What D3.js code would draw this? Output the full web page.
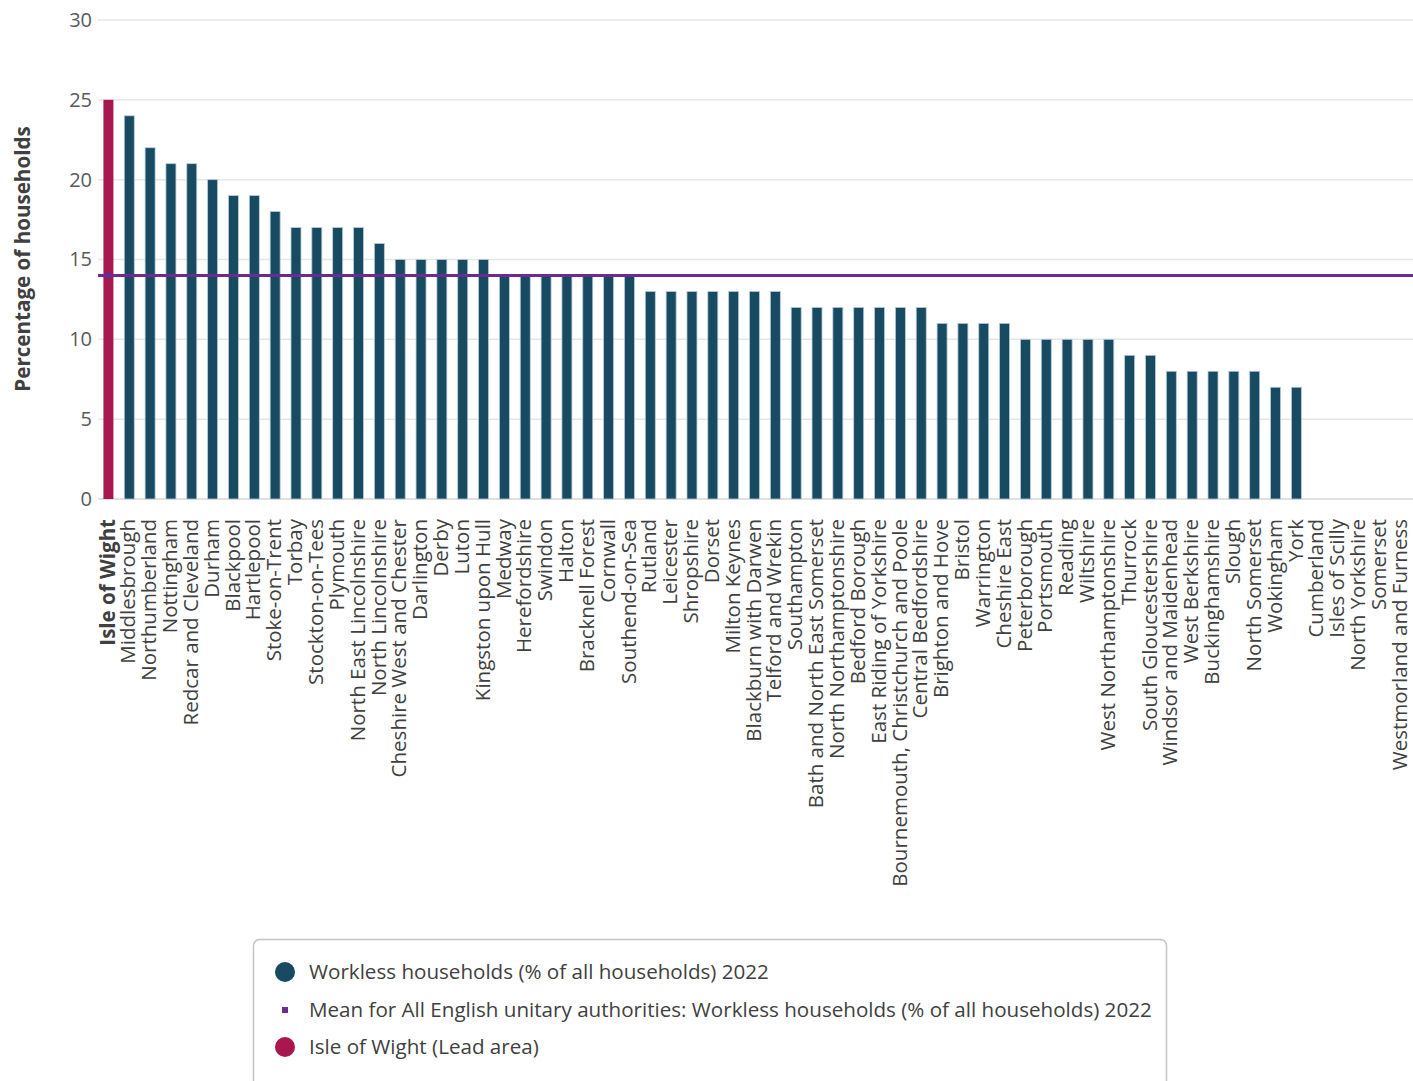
<!DOCTYPE html>
<html><head><meta charset="utf-8">
<script src="https://cdn.jsdelivr.net/npm/d3@7"></script>
<style>
body{margin:0;background:#fff;font-family:"Open Sans",sans-serif;}
svg{display:block;}
</style></head>
<body>
<svg id="chart" width="1413" height="1081"></svg>
<script>
const categories = ["Isle of Wight","Middlesbrough","Northumberland","Nottingham","Redcar and Cleveland","Durham","Blackpool","Hartlepool","Stoke-on-Trent","Torbay","Stockton-on-Tees","Plymouth","North East Lincolnshire","North Lincolnshire","Cheshire West and Chester","Darlington","Derby","Luton","Kingston upon Hull","Medway","Herefordshire","Swindon","Halton","Bracknell Forest","Cornwall","Southend-on-Sea","Rutland","Leicester","Shropshire","Dorset","Milton Keynes","Blackburn with Darwen","Telford and Wrekin","Southampton","Bath and North East Somerset","North Northamptonshire","Bedford Borough","East Riding of Yorkshire","Bournemouth, Christchurch and Poole","Central Bedfordshire","Brighton and Hove","Bristol","Warrington","Cheshire East","Peterborough","Portsmouth","Reading","Wiltshire","West Northamptonshire","Thurrock","South Gloucestershire","Windsor and Maidenhead","West Berkshire","Buckinghamshire","Slough","North Somerset","Wokingham","York","Cumberland","Isles of Scilly","North Yorkshire","Somerset","Westmorland and Furness"];
const values = [25,24,22,21,21,20,19,19,18,17,17,17,17,16,15,15,15,15,15,14,14,14,14,14,14,14,13,13,13,13,13,13,13,12,12,12,12,12,12,12,11,11,11,11,10,10,10,10,10,9,9,8,8,8,8,8,7,7,null,null,null,null,null];
const meanValue = 14;
const leadArea = "Isle of Wight";
const yTicks = [0,5,10,15,20,25,30];
const legendLabels = ["Workless households (% of all households) 2022","Mean for All English unitary authorities: Workless households (% of all households) 2022","Isle of Wight (Lead area)"];
const colors = {bar:"#184a62", lead:"#a8174f", mean:"#6b2c91"};

const svg = d3.select("#chart");
const x = d3.scaleBand().domain(categories).range([98,1411]).paddingInner(0.52).paddingOuter(0.26);
const y = d3.scaleLinear().domain([0,30]).range([499,20]);

svg.append("g").selectAll("line").data(yTicks).join("line")
  .attr("x1",98).attr("x2",1413).attr("y1",d=>y(d)).attr("y2",d=>y(d))
  .attr("stroke",d=>d===0?"#d6d6d6":"#e6e6e6").attr("stroke-width",1.5);

const yAxis = svg.append("g").attr("transform","translate(92,0)")
  .call(d3.axisLeft(y).tickValues(yTicks).tickSize(0).tickPadding(0));
yAxis.select(".domain").remove();
yAxis.selectAll("text").attr("font-family","Open Sans").attr("font-size",20).attr("fill","#595959").attr("dy","0.32em");

svg.append("text").attr("transform","translate(30,259) rotate(-90)")
  .attr("text-anchor","middle").attr("font-family","Open Sans").attr("font-weight",700)
  .attr("font-size",20.6).attr("fill","#404040").text("Percentage of households");

svg.append("g").selectAll("rect").data(categories.map((c,i)=>({c,v:values[i]})).filter(d=>d.v!=null)).join("rect")
  .attr("x",d=>x(d.c)).attr("width",x.bandwidth())
  .attr("y",d=>y(d.v)).attr("height",d=>y(0)-y(d.v))
  .attr("fill",d=>d.c===leadArea?colors.lead:colors.bar)
  .attr("stroke",d=>d.c===leadArea?"none":"#b9cdd8").attr("stroke-width",0.8);

svg.append("line").attr("x1",98).attr("x2",1413).attr("y1",y(meanValue)).attr("y2",y(meanValue))
  .attr("stroke",colors.mean).attr("stroke-width",3);
svg.append("circle").attr("cx",x(categories[0])+x.bandwidth()/2).attr("cy",y(meanValue)).attr("r",3.5).attr("fill",colors.mean);

const xAxis = svg.append("g").attr("transform","translate(0,499)")
  .call(d3.axisBottom(x).tickSize(0).tickPadding(0));
xAxis.select(".domain").remove();
xAxis.selectAll("text")
  .attr("font-family","Open Sans").attr("font-size",20.5).attr("fill","#404040")
  .attr("font-weight",d=>d===leadArea?700:400)
  .attr("text-anchor","end").attr("transform","rotate(-90)")
  .attr("x",-20).attr("y",0).attr("dy","0.3em");

const lg = svg.append("g");
lg.append("rect").attr("x",253.5).attr("y",939.5).attr("width",913).attr("height",160).attr("rx",6)
  .attr("fill","#fff").attr("stroke","#c4c4c4").attr("stroke-width",1.5);
const ly = [972,1010,1047];
lg.append("circle").attr("cx",285).attr("cy",ly[0]).attr("r",10).attr("fill",colors.bar);
lg.append("rect").attr("x",282).attr("y",ly[1]-3).attr("width",6).attr("height",6).attr("fill",colors.mean);
lg.append("circle").attr("cx",285).attr("cy",ly[2]).attr("r",10).attr("fill",colors.lead);
lg.selectAll("text").data(legendLabels).join("text")
  .attr("x",309).attr("y",(d,i)=>ly[i]).attr("dy","0.35em")
  .attr("font-family","Open Sans").attr("font-size",20.6).attr("fill","#404040").text(d=>d);
</script>
</body></html>
